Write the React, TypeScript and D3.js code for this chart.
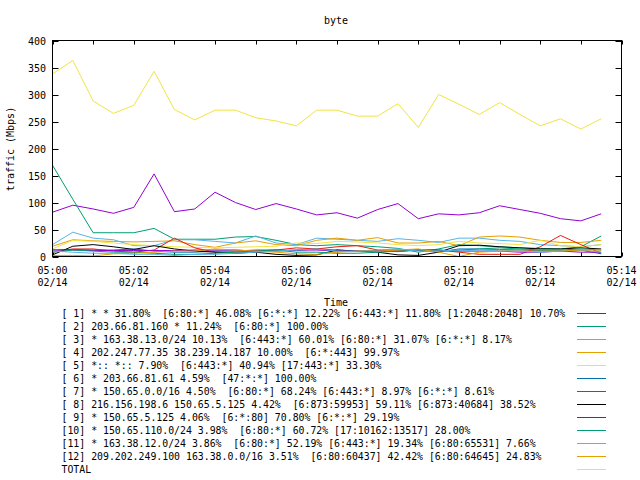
import React from "react";
import * as d3 from "d3";

const W = 640;
const H = 480;

const title = "byte";
const yLabel = "traffic (Mbps)";
const xLabel = "Time";
const dateLabel = "02/14";
const xTickLabels = ["05:00", "05:02", "05:04", "05:06", "05:08", "05:10", "05:12", "05:14"];
const yTicks = [0, 50, 100, 150, 200, 250, 300, 350, 400];

// sample times in minutes after 05:00 (every 30 s)
const times = [0, 0.5, 1, 1.5, 2, 2.5, 3, 3.5, 4, 4.5, 5, 5.5, 6, 6.5, 7, 7.5, 8, 8.5, 9, 9.5, 10, 10.5, 11, 11.5, 12, 12.5, 13, 13.5];

const legendLabels = [
  "[ 1] * * 31.80%  [6:80:*] 46.08% [6:*:*] 12.22% [6:443:*] 11.80% [1:2048:2048] 10.70%",
  "[ 2] 203.66.81.160 * 11.24%  [6:80:*] 100.00%",
  "[ 3] * 163.38.13.0/24 10.13%  [6:443:*] 60.01% [6:80:*] 31.07% [6:*:*] 8.17%",
  "[ 4] 202.247.77.35 38.239.14.187 10.00%  [6:*:443] 99.97%",
  "[ 5] *:: *:: 7.90%  [6:443:*] 40.94% [17:443:*] 33.30%",
  "[ 6] * 203.66.81.61 4.59%  [47:*:*] 100.00%",
  "[ 7] * 150.65.0.0/16 4.50%  [6:80:*] 68.24% [6:443:*] 8.97% [6:*:*] 8.61%",
  "[ 8] 216.156.198.6 150.65.5.125 4.42%  [6:873:59953] 59.11% [6:873:40684] 38.52%",
  "[ 9] * 150.65.5.125 4.06%  [6:*:80] 70.80% [6:*:*] 29.19%",
  "[10] * 150.65.110.0/24 3.98%  [6:80:*] 60.72% [17:10162:13517] 28.00%",
  "[11] * 163.38.12.0/24 3.86%  [6:80:*] 52.19% [6:443:*] 19.34% [6:80:65531] 7.66%",
  "[12] 209.202.249.100 163.38.0.0/16 3.51%  [6:80:60437] 42.42% [6:80:64645] 24.83%",
  "TOTAL",
];

const colors = [
  "#9400d3", "#009e73", "#56b4e9", "#e69f00", "#f0e442", "#0072b2",
  "#e51e10", "#000000", "#9400d3", "#009e73", "#56b4e9", "#e69f00", "#f0e442",
];

const s1 = [82, 95, 88, 80, 91, 153, 83, 88, 119, 100, 87, 98, 88, 77, 81, 71, 87, 98, 70, 79, 77, 81, 94, 87, 80, 70, 66, 79];
const s2 = [169, 106, 44, 44, 44, 52, 32, 32, 32, 36, 37, 30, 22, 20, 22, 20, 18, 15, 8, 14, 22, 20, 18, 16, 15, 14, 18, 38];
const s3 = [22, 45, 34, 31, 20, 20, 31, 31, 28, 25, 38, 25, 22, 34, 32, 30, 28, 33, 30, 26, 34, 34, 30, 28, 22, 20, 18, 22];
const s4 = [19, 31, 29, 28, 27, 28, 29, 22, 17, 25, 29, 22, 20, 30, 34, 30, 35, 25, 25, 28, 20, 36, 38, 36, 30, 26, 26, 30];
const s5 = [14, 30, 28, 25, 22, 20, 18, 17, 16, 17, 18, 19, 25, 24, 28, 27, 25, 22, 20, 22, 28, 25, 24, 22, 30, 20, 18, 22];
const s6 = [12, 13, 12, 12, 14, 10, 8, 8, 10, 10, 12, 12, 11, 14, 12, 10, 10, 9, 12, 8, 14, 14, 13, 12, 11, 10, 12, 5];
const s7 = [8, 14, 14, 10, 8, 12, 34, 16, 8, 8, 10, 12, 16, 14, 18, 20, 12, 10, 12, 12, 8, 4, 4, 4, 18, 39, 22, 6];
const s8 = [3, 19, 22, 18, 13, 20, 14, 10, 8, 6, 8, 4, 2, 3, 12, 10, 8, 3, 2, 8, 20, 21, 18, 16, 14, 14, 16, 14];
const s9 = [12, 12, 11, 11, 11, 11, 11, 12, 12, 12, 10, 10, 12, 12, 10, 10, 11, 12, 12, 12, 10, 10, 10, 8, 8, 10, 8, 8];
const s10 = [8, 12, 10, 8, 8, 6, 4, 4, 6, 8, 10, 12, 8, 8, 6, 6, 8, 10, 12, 10, 12, 14, 16, 14, 12, 12, 14, 12];
const s11 = [10, 8, 6, 6, 4, 4, 2, 4, 4, 6, 8, 10, 12, 14, 10, 10, 12, 14, 10, 10, 12, 10, 12, 10, 8, 10, 12, 8];
const s12 = [2, 2, 1, 5, 6, 8, 10, 10, 14, 12, 10, 8, 5, 4, 8, 10, 10, 12, 14, 8, 0, 8, 10, 10, 10, 10, 12, 12];
const sTotal = [338, 363, 288, 265, 280, 343, 272, 253, 271, 271, 257, 251, 242, 271, 271, 260, 260, 283, 239, 300, 282, 263, 285, 263, 242, 255, 236, 255];

const seriesList = [s1, s2, s3, s4, s5, s6, s7, s8, s9, s10, s11, s12, sTotal];

const FONT = "'DejaVu Sans Mono', monospace";

export default function App() {
  const left = 52.5, right = 621.5, top = 40.5, bottom = 256.5;
  const x = d3.scaleLinear().domain([0, 14]).range([left, right]);
  const y = d3.scaleLinear().domain([0, 400]).range([bottom, top]);
  const line = d3.line<number>().x((_, i) => x(times[i])).y((d) => y(d));
  const minuteTicks = d3.range(0, 15);

  return (
    <svg width={W} height={H} style={{ position: "absolute", left: 0, top: 0, background: "#fff" }}
      fontFamily={FONT} fontSize={10}>
      <rect x={0} y={0} width={W} height={H} fill="#fff" />
      <text x={336} y={24} textAnchor="middle">{title}</text>
      {/* y ticks */}
      {yTicks.map((t) => (
        <g key={"y" + t}>
          <line x1={left} x2={left + 6} y1={Math.round(y(t)) + 0.5} y2={Math.round(y(t)) + 0.5} stroke="#000" />
          <line x1={right - 6} x2={right} y1={Math.round(y(t)) + 0.5} y2={Math.round(y(t)) + 0.5} stroke="#000" />
          <text x={46} y={y(t) + 4} textAnchor="end">{t}</text>
        </g>
      ))}
      {/* x ticks */}
      {minuteTicks.map((m) => (
        <g key={"x" + m}>
          <line x1={Math.round(x(m)) + 0.5} x2={Math.round(x(m)) + 0.5} y1={bottom} y2={bottom - 4} stroke="#000" />
          <line x1={Math.round(x(m)) + 0.5} x2={Math.round(x(m)) + 0.5} y1={top} y2={top + 4} stroke="#000" />
        </g>
      ))}
      {xTickLabels.map((lab, i) => (
        <g key={"xl" + i}>
          <text x={x(i * 2)} y={274} textAnchor="middle">{lab}</text>
          <text x={x(i * 2)} y={286} textAnchor="middle">{dateLabel}</text>
        </g>
      ))}
      <text transform={`translate(14,149) rotate(-90)`} textAnchor="middle">{yLabel}</text>
      <text x={336} y={306} textAnchor="middle">{xLabel}</text>
      {/* series */}
      <g fill="none" strokeWidth={1}>
        {seriesList.map((s, i) => (
          <path key={"s" + i} d={line(s) || ""} stroke={colors[i]} />
        ))}
      </g>
      <rect x={left} y={top} width={right - left} height={bottom - top} fill="none" stroke="#000" />
      {/* legend */}
      {legendLabels.map((lab, i) => (
        <g key={"lg" + i}>
          <text x={61.5} y={317 + i * 13} fontSize={9.85} style={{ whiteSpace: "pre" }}>{lab}</text>
          <line x1={577} x2={606} y1={313.5 + i * 13} y2={313.5 + i * 13} stroke={colors[i]} />
        </g>
      ))}
    </svg>
  );
}
